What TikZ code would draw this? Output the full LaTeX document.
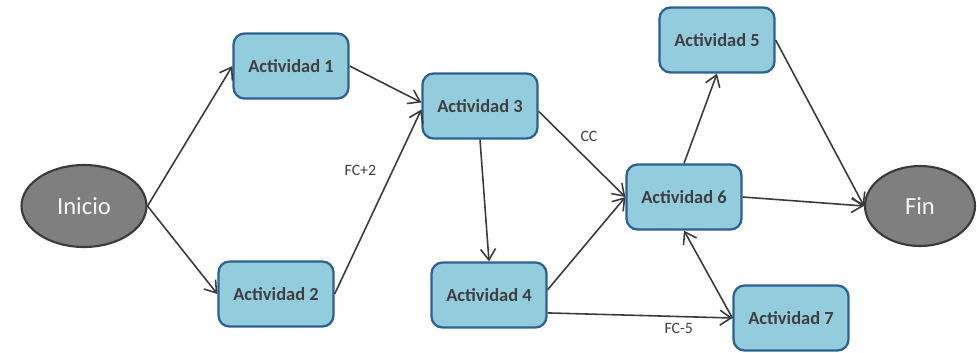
\documentclass[tikz,border=0pt]{standalone}
\usepackage{fontspec}
\setmainfont{Carlito}
\usetikzlibrary{arrows.meta,shapes.geometric}
\definecolor{actfill}{HTML}{93CDDD}
\definecolor{actline}{HTML}{2E6193}
\definecolor{evfill}{HTML}{7F7F7F}
\definecolor{evline}{HTML}{3A3A3A}
\definecolor{txt}{HTML}{3F3F3F}
\begin{document}
\begin{tikzpicture}[x=0.02cm, y=-0.02cm,
          actividad/.style={draw=actline, line width=1.3pt, fill=actfill, rounded corners=0.22cm,
            minimum width=2.3cm, minimum height=1.3cm, text=txt, font=\fontsize{10.5}{12}\selectfont\bfseries},
          evento/.style={ellipse, draw=evline, line width=1.2pt, fill=evfill, minimum width=2.5cm,
            minimum height=1.64cm, text=white!92!gray, font=\fontsize{14}{16}\selectfont},
          flecha/.style={-{Straight Barb[length=2.2mm, width=3mm]}, draw=evline, line width=0.9pt},
          etiqueta/.style={text=txt, font=\fontsize{9}{10}\selectfont}]
            \useasboundingbox (0,0) rectangle (977,352);
            % Eventos
            \node[evento] (inicio) at (84,206) {Inicio};
            \node[evento, minimum width=2.2cm, minimum height=1.6cm] (fin) at (920,206) {Fin};
            % Actividades
            \node[actividad] (act1) at (291,66) {Actividad 1};
            \node[actividad] (act2) at (276,294) {Actividad 2};
            \node[actividad] (act3) at (480,106) {Actividad 3};
            \node[actividad] (act4) at (489,295) {Actividad 4};
            \node[actividad] (act5) at (717,40) {Actividad 5};
            \node[actividad] (act6) at (684,197) {Actividad 6};
            \node[actividad] (act7) at (791,318) {Actividad 7};
            % Dependencias
            \draw[flecha] (inicio.east) -- (act1.west);
            \draw[flecha] (inicio.east) -- (act2.west);
            \draw[flecha] (act1.east) -- ([yshift=2pt]act3.west);
            \draw[flecha] (act2.east) -- node[etiqueta, pos=0.67, left=0.2cm] (fc2) {FC+2} ([yshift=-2pt]act3.west);
            \draw[flecha] ([yshift=-3pt]act3.east) -- node[etiqueta, pos=0.58, above=0.25cm] (cc) {CC} (act6.west);
            \draw[flecha] (act3.south) -- (act4.north);
            \draw[flecha] ([yshift=3pt]act4.east) -- (act6.west);
            \draw[flecha] (act4.-17) -- node[etiqueta, pos=0.71, below] (fc5) {FC-5} (act7.west);
            \draw[flecha] (act7.west) -- (act6.south);
            \draw[flecha] (act6.north) -- (act5.south);
            \draw[flecha] (act6.east) -- (fin.west);
            \draw[flecha] (act5.east) -- (fin.west);
        \end{tikzpicture}
\end{document}
